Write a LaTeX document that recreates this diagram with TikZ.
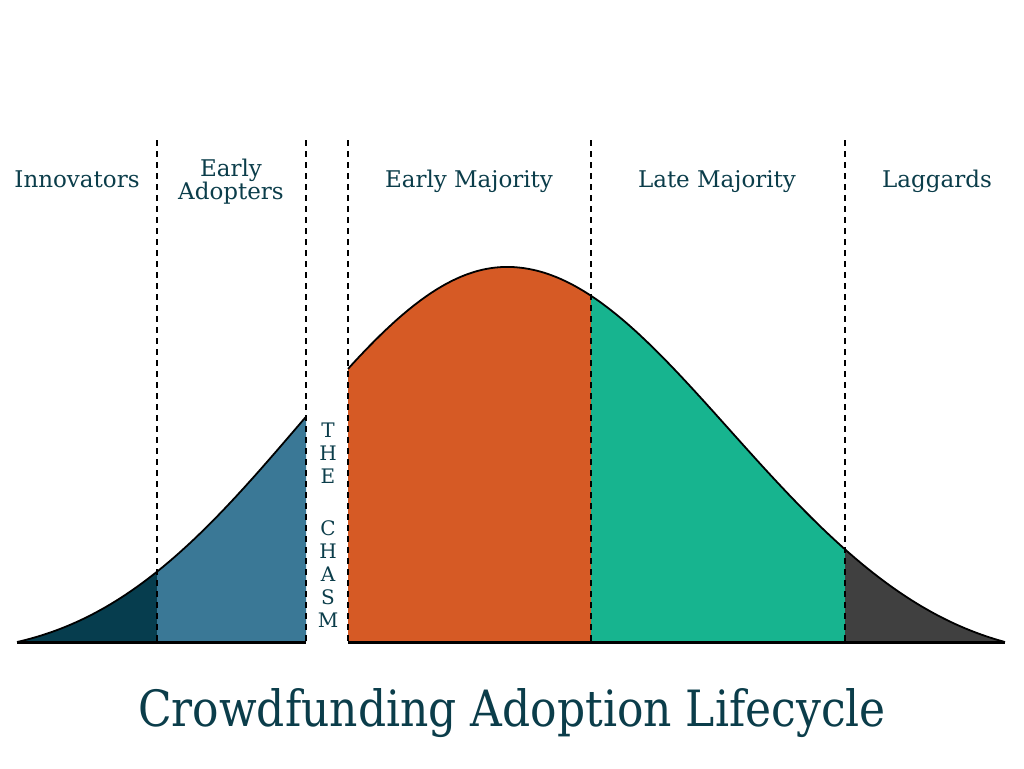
\documentclass[tikz,border=0pt]{standalone}
\usepackage{fontspec}
\setmainfont{DejaVu Serif}
\newfontfamily\titlefont[FakeStretch=0.88]{DejaVu Serif}
\definecolor{txt}{HTML}{0B3D4A}
\definecolor{innov}{HTML}{063D4E}
\definecolor{early}{HTML}{3A7896}
\definecolor{emaj}{HTML}{D65A25}
\definecolor{lmaj}{HTML}{17B48F}
\definecolor{lag}{HTML}{404040}
\begin{document}
\begin{tikzpicture}[x=1pt,y=-1pt,
  declare function={
    sx(\u)=\u*\u*\u*\u*\u*\u;
    bl(\t)=642-375*exp(-0.5*((507-\t)/200)*((507-\t)/200))*(1-sx((507-\t)/490));
    br(\t)=642-375*exp(-0.5*((\t-507)/210)*((\t-507)/210))*(1-sx((\t-507)/498));},
  curve/.style={draw=black,line width=1.8pt},
  divider/.style={draw=black,line width=2.2pt,dash pattern=on 6pt off 5pt},
  base/.style={draw=black,line width=3pt},
  lbl/.style={text=txt,font=\fontsize{23}{23}\selectfont,anchor=base,inner sep=0pt},
  chasm/.style={text=txt,font=\fontsize{20}{20}\selectfont,inner sep=0pt},
  title/.style={text=txt,font=\titlefont\fontsize{50}{56}\selectfont,anchor=base,inner sep=0pt}]
\useasboundingbox (0,0) rectangle (1024,768);
% fills
\fill[innov] (17,642) -- plot[domain=17:157,samples=50] (\x,{bl(\x)}) -- (157,642) -- cycle;
\fill[early] (157,642) -- plot[domain=157:306,samples=50] (\x,{bl(\x)}) -- (306,642) -- cycle;
\fill[emaj] (348,642) -- plot[domain=348:507,samples=50] (\x,{bl(\x)})
  -- plot[domain=507:591,samples=30] (\x,{br(\x)}) -- (591,642) -- cycle;
\fill[lmaj] (591,642) -- plot[domain=591:845,samples=70] (\x,{br(\x)}) -- (845,642) -- cycle;
\fill[lag] (845,642) -- plot[domain=845:1005,samples=60] (\x,{br(\x)}) -- (1005,642) -- cycle;
% outline
\draw[curve] plot[domain=17:306,samples=100] (\x,{bl(\x)});
\draw[curve,line join=round] plot[domain=348:507,samples=60] (\x,{bl(\x)})
  -- plot[domain=507:1005,samples=150] (\x,{br(\x)});
% dividers
\foreach \d in {157,306,348,591,845} \draw[divider] (\d,140) -- (\d,642);
% baseline
\draw[base] (17,642) -- (306,642);
\draw[base] (348,642) -- (1005,642);
% labels
\node[lbl] (innovators) at (77,187) {Innovators};
\node[lbl] (early1) at (231,176) {Early};
\node[lbl] (early2) at (231,199) {Adopters};
\node[lbl] (earlymaj) at (469,187) {Early Majority};
\node[lbl] (latemaj) at (717,187) {Late Majority};
\node[lbl] (laggards) at (937,187) {Laggards};
\foreach \c/\y [count=\i] in {T/430,H/453,E/476,C/528,H/551,A/574,S/597,M/620}
  \node[chasm] (chasm\i) at (328,\y) {\c};
\node[title] (title) at (512,726) {Crowdfunding Adoption Lifecycle};
\end{tikzpicture}
\end{document}
